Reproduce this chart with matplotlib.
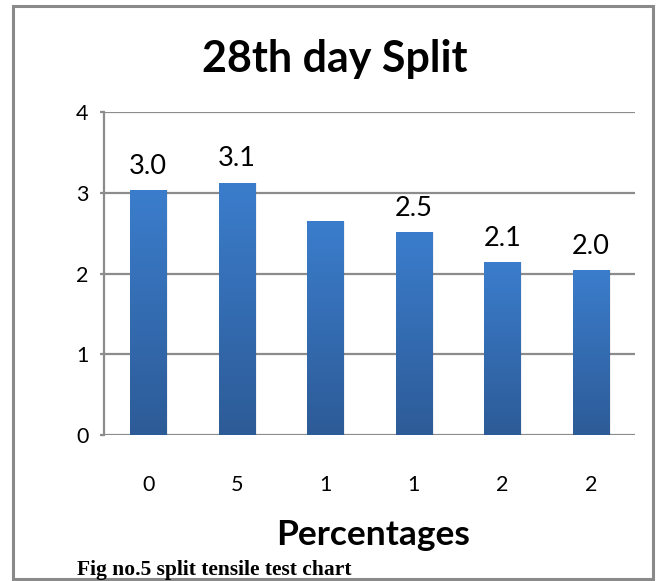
import numpy as np
import matplotlib
matplotlib.use("Agg")
import matplotlib.pyplot as plt
from matplotlib.colors import LinearSegmentedColormap
from matplotlib.patches import Rectangle

# Split tensile strength after 28 days
categories = ["0", "5", "1", "1", "2", "2"]
values = [3.03, 3.12, 2.65, 2.51, 2.14, 2.04]
show_label = [True, True, False, True, True, True]
y_ticks = [0, 1, 2, 3, 4]

W, H = 657, 581
fig = plt.figure(figsize=(W / 100, H / 100), dpi=100)
fig.patch.set_facecolor("white")

ax = fig.add_axes([104 / W, 1 - 435 / H, (635 - 104) / W, (435 - 112) / H])
ax.set_xlim(-0.5, len(categories) - 0.5)
ax.set_ylim(0, 4)

grid_col = "#8c8c8c"
for t in y_ticks:
    ax.axhline(t, color=grid_col, lw=1.6, zorder=1)

x = np.arange(len(categories))
bw = 0.41
cmap = LinearSegmentedColormap.from_list("barblue", ["#2d5b97", "#3b7dcc"])
grad = np.linspace(0, 1, 256).reshape(-1, 1)
bars = ax.bar(x, values, width=bw, color="none", edgecolor="none", zorder=2)
for b in bars:
    x0, y0 = b.get_x(), b.get_y()
    w, h = b.get_width(), b.get_height()
    # soft shadow to the right of each bar
    ax.add_patch(Rectangle((x0 + 0.02, y0), w, h, facecolor="#000000",
                           alpha=0.06, edgecolor="none", zorder=2))
    im = ax.imshow(grad, cmap=cmap, origin="lower", aspect="auto",
                   extent=(x0, x0 + w, y0, y0 + h), zorder=3)
    im.set_clip_path(b)
ax.set_xlim(-0.5, len(categories) - 0.5)
ax.set_ylim(0, 4)

for xi, v, s in zip(x, values, show_label):
    if s:
        ax.annotate(f"{v:.1f}", (xi, v), xytext=(0, 12), textcoords="offset points",
                    ha="center", va="baseline", fontsize=19.5, family="Lato")

for sp in ["top", "right", "bottom"]:
    ax.spines[sp].set_visible(False)
ax.spines["left"].set_color(grid_col)
ax.spines["left"].set_linewidth(1.6)

ax.set_yticks(y_ticks)
ax.set_yticklabels([str(t) for t in y_ticks], fontsize=15.5, family="Lato")
ax.tick_params(axis="y", length=3, width=1.6, color=grid_col, pad=8)
ax.set_xticks(x)
ax.set_xticklabels(categories, fontsize=15.5, family="Lato")
ax.tick_params(axis="x", length=0, pad=29)

fig.text(335 / W, 1 - 72 / H, "28th day Split", ha="center", va="baseline",
         fontsize=31, fontweight="bold", family="Lato")
fig.text(373 / W, 1 - 545 / H, "Percentages", ha="center", va="baseline",
         fontsize=25.5, fontweight="bold", family="Lato")
fig.text(77 / W, 1 - 575 / H, "Fig no.5 split tensile test chart", ha="left",
         va="baseline", fontsize=15.5, fontweight="bold", family="Liberation Serif")

# chart frame
fig.add_artist(Rectangle((13 / W, 1 - 579 / H), (653 - 13) / W, (579 - 6) / H,
                         transform=fig.transFigure, fill=False,
                         edgecolor="#8a8a8a", lw=2.2))

fig.savefig("out.png", dpi=100)
